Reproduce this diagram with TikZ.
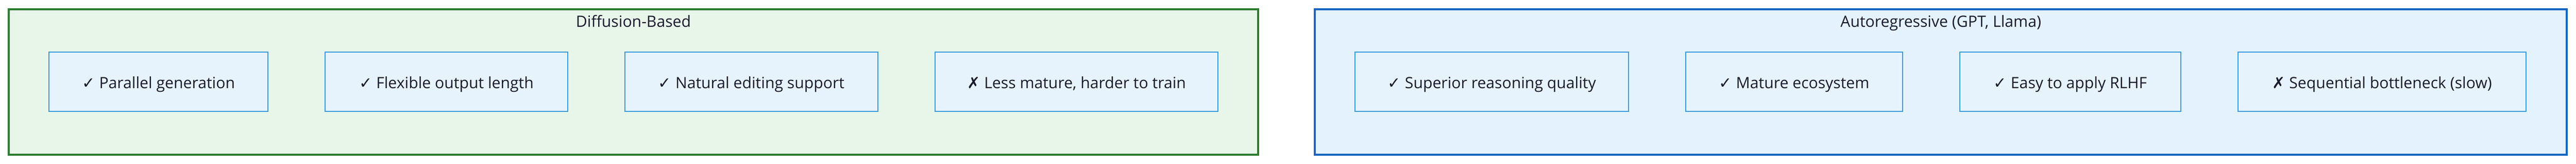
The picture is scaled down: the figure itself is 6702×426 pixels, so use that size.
\documentclass[tikz,border=0pt]{standalone}
\usepackage{fontspec}
\setmainfont{Open Sans}
\newfontfamily\symbolfont{DejaVu Sans}
\usepackage{tikz}
\usetikzlibrary{positioning}
\usepackage{xcolor}
\definecolor{diffgreen}{RGB}{46,125,50}
\definecolor{diffgreenbg}{RGB}{232,245,233}
\definecolor{arblue}{RGB}{25,103,194}
\definecolor{arbluebg}{RGB}{227,242,253}
\definecolor{itemblue}{RGB}{58,155,220}
\definecolor{itembg}{RGB}{230,243,252}
\definecolor{textdark}{RGB}{26,26,46}
\newcommand{\checkmk}{{\symbolfont ✓}}
\newcommand{\crossmk}{{\symbolfont ✗}}

\begin{document}
\begin{tikzpicture}[x=0.01cm,y=-0.01cm,
    groupbox/.style={rectangle,line width=1.45pt,minimum height=3.775cm,inner sep=0pt,outer sep=0pt},
    grouptitle/.style={anchor=base,inner sep=0pt,text=textdark,font=\fontsize{11.5}{14}\selectfont},
    itembox/.style={rectangle,draw=itemblue,fill=itembg,line width=0.72pt,minimum height=1.54cm,
        inner sep=0pt,outer sep=0pt,text height=9.6pt,text depth=0pt,text=textdark,
        font=\fontsize{11.5}{14}\selectfont},
    node distance=1.49cm]
        \useasboundingbox (0,0) rectangle (6702,426);

        % Diffusion-Based
        \node[groupbox,draw=diffgreen,fill=diffgreenbg,minimum width=32.48cm] (diff) at (1648,212.75) {};
        \node[grouptitle] (difftitle) at (1648,71) {Diffusion-Based};
        \node[itembox,minimum width=5.69cm] (d1) at (412.5,213) {\checkmk\ Parallel generation};
        \node[itembox,minimum width=6.30cm,right=of d1] (d2) {\checkmk\ Flexible output length};
        \node[itembox,minimum width=6.58cm,right=of d2] (d3) {\checkmk\ Natural editing support};
        \node[itembox,minimum width=7.35cm,right=of d3] (d4) {\crossmk\ Less mature, harder to train};

        % Autoregressive
        \node[groupbox,draw=arblue,fill=arbluebg,minimum width=32.55cm] (ar) at (5049.5,212.75) {};
        \node[grouptitle] (artitle) at (5049.5,71) {Autoregressive (GPT, Llama)};
        \node[itembox,minimum width=7.11cm] (a1) at (3881.5,213) {\checkmk\ Superior reasoning quality};
        \node[itembox,minimum width=5.63cm,right=of a1] (a2) {\checkmk\ Mature ecosystem};
        \node[itembox,minimum width=5.75cm,right=of a2] (a3) {\checkmk\ Easy to apply RLHF};
        \node[itembox,minimum width=7.48cm,right=of a3] (a4) {\crossmk\ Sequential bottleneck (slow)};
    \end{tikzpicture}
\end{document}
